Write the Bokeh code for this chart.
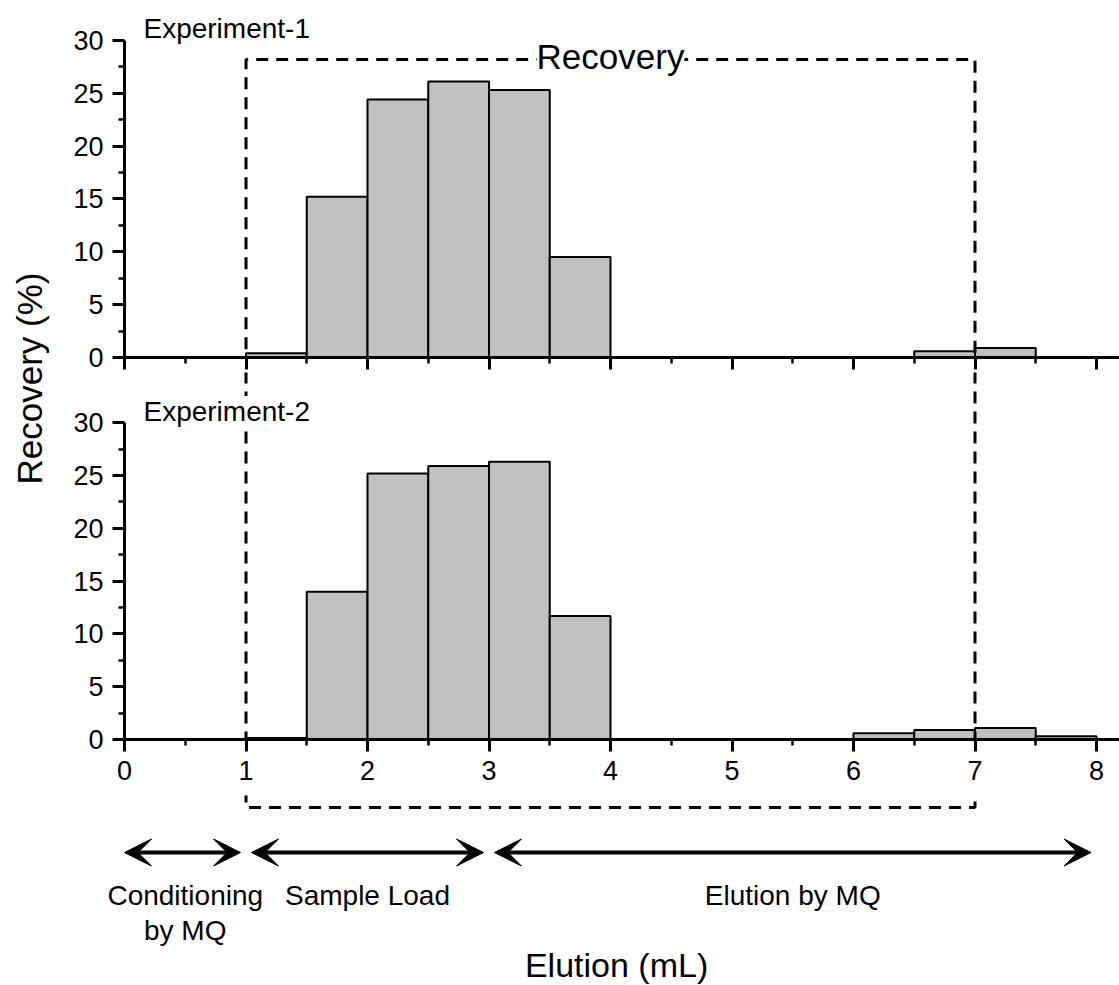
import numpy as np
from bokeh.plotting import figure
from bokeh.layouts import column, row
from bokeh.models import FixedTicker, Range1d, Label, Arrow, VeeHead, ColumnDataSource
from bokeh.core.properties import value
from bokeh.embed import file_html
from bokeh.resources import INLINE

# ---- data -------------------------------------------------------------
# fraction bins, 0.5 mL wide (left edges, mL)
bin_left = [0.0, 0.5, 1.0, 1.5, 2.0, 2.5, 3.0, 3.5, 4.0, 4.5, 5.0, 5.5, 6.0, 6.5, 7.0, 7.5]
bin_width = 0.5
# recovery per fraction (%)
recovery_exp1 = [0, 0, 0.4, 15.2, 24.4, 26.1, 25.3, 9.5, 0, 0, 0, 0, 0, 0.6, 0.9, 0]
recovery_exp2 = [0, 0, 0.15, 14.0, 25.2, 25.9, 26.3, 11.7, 0, 0, 0, 0, 0.6, 0.9, 1.1, 0.3]
panel_titles = ["Experiment-1", "Experiment-2"]

y_ticks = [0, 5, 10, 15, 20, 25, 30]
x_ticks = [0, 1, 2, 3, 4, 5, 6, 7, 8]

# fractions counted as recovery (mL)
recovery_window = [1, 7]

# protocol phases (mL)
phase_labels = ["Conditioning\nby MQ", "Sample Load", "Elution by MQ"]
phase_start = [0, 1, 3]
phase_end = [1, 3, 8]

# ---- layout constants -------------------------------------------------
FONT_NAME = "Liberation Sans"
FONT = value(FONT_NAME)
PX_PER_ML = 121.5
FRAME_W = 995
X_END = FRAME_W / PX_PER_ML
LEFT_W = 60
COL_W = 1059
BORDER_L = 64
PAGE_W = LEFT_W + COL_W

DASH = "12 8"


def minor(ticks):
    return [(a + b) / 2 for a, b in zip(ticks[:-1], ticks[1:])]


def style_axes(p, show_x_labels):
    p.xgrid.visible = False
    p.ygrid.visible = False
    p.outline_line_color = None
    for ax in (p.xaxis[0], p.yaxis[0]):
        ax.axis_line_width = 3
        ax.axis_line_color = "black"
        ax.major_tick_out = 12
        ax.major_tick_in = 0
        ax.minor_tick_out = 6
        ax.minor_tick_in = 0
        ax.major_tick_line_width = 3
        ax.minor_tick_line_width = 2.5
        ax.major_tick_line_color = "black"
        ax.minor_tick_line_color = "black"
        ax.major_label_text_font = FONT_NAME
        ax.major_label_text_font_size = "27px"
        ax.major_label_text_color = "black"
    p.yaxis.ticker = FixedTicker(ticks=y_ticks, minor_ticks=minor(y_ticks))
    p.yaxis.bounds = (y_ticks[0], y_ticks[-1])
    p.yaxis.major_label_standoff = 9
    p.xaxis.ticker = FixedTicker(ticks=x_ticks, minor_ticks=minor(x_ticks))
    if show_x_labels:
        p.xaxis.major_label_standoff = 9
    else:
        # the upper panel shares the lower panel's numbers: ticks only
        p.xaxis.major_label_text_font_size = "1px"
        p.xaxis.major_label_text_color = None
        p.xaxis.major_label_standoff = 0


def panel(values, height, frame_h, border_b, show_x_labels, px_per_unit):
    p = figure(width=COL_W, height=height,
               x_range=Range1d(0, X_END), y_range=Range1d(0, frame_h / px_per_unit),
               output_backend="svg", toolbar_location=None,
               min_border_left=BORDER_L, min_border_right=0,
               min_border_top=0, min_border_bottom=border_b,
               background_fill_color="white", border_fill_color="white")
    src = ColumnDataSource(dict(
        left=bin_left,
        right=[b + bin_width for b in bin_left],
        top=values,
    ))
    p.quad(left="left", right="right", bottom=0, top="top", source=src,
           fill_color="#c0c0c0", line_color="black", line_width=2)
    style_axes(p, show_x_labels)
    return p


# ---- top panel ----------------------------------------------------------
p1 = panel(recovery_exp1, 372, 357, 15, False, 10.57)
win_top = 28.2
p1.line(x=[recovery_window[0], recovery_window[0], recovery_window[1], recovery_window[1]],
        y=[-3, win_top, win_top, -3], line_color="black", line_width=3, line_dash=DASH)
p1.add_layout(Label(x=4.0, y=28.5, text="Recovery", text_font=FONT_NAME, text_font_size="35px",
                    text_align="center", text_baseline="middle", text_color="black",
                    background_fill_color="white"))
p1.add_layout(Label(x=0.156, y=31.1, text=panel_titles[0], text_font=FONT_NAME,
                    text_font_size="28px", text_align="left", text_baseline="middle",
                    text_color="black"))

# ---- bottom panel -------------------------------------------------------
p2 = panel(recovery_exp2, 423, 367, 56, True, 10.56)
p2.segment(x0=recovery_window, y0=[50, 50], x1=recovery_window, y1=[-3, -3],
           line_color="black", line_width=3, line_dash=DASH)
p2.add_layout(Label(x=0.156, y=31.05, text=panel_titles[1], text_font=FONT_NAME,
                    text_font_size="28px", text_align="left", text_baseline="middle",
                    text_color="black", background_fill_color="white"))

# ---- shared y-axis title ----------------------------------------------
p0 = figure(width=LEFT_W, height=372 + 423, x_range=Range1d(0, LEFT_W), y_range=Range1d(0, 372 + 423),
            output_backend="svg", toolbar_location=None,
            min_border_left=0, min_border_right=0, min_border_top=0, min_border_bottom=0,
            x_axis_type=None, y_axis_type=None)
p0.xgrid.visible = False
p0.ygrid.visible = False
p0.outline_line_color = None
p0.text(x=[29], y=[372 + 423 - 378], text=["Recovery (%)"], angle=np.pi / 2, text_font=FONT,
        text_font_size="35px", text_align="center", text_baseline="middle", text_color="black")

# ---- protocol strip below the axis (full page width) -------------------
FOOT_H = 190
x_left_page = -(LEFT_W + BORDER_L) / PX_PER_ML
p3 = figure(width=PAGE_W, height=FOOT_H, x_range=Range1d(x_left_page, X_END),
            y_range=Range1d(0, FOOT_H),
            output_backend="svg", toolbar_location=None,
            min_border_left=0, min_border_right=0, min_border_top=0, min_border_bottom=0,
            x_axis_type=None, y_axis_type=None)
p3.xgrid.visible = False
p3.ygrid.visible = False
p3.outline_line_color = None

win_bottom = 178
p3.line(x=[recovery_window[0], recovery_window[0], recovery_window[1], recovery_window[1]],
        y=[FOOT_H + 5, win_bottom, win_bottom, FOOT_H + 5],
        line_color="black", line_width=3, line_dash=DASH)

inset = 0.045
arrow_src = ColumnDataSource(dict(
    x0=[s + (inset if s > x_ticks[0] else 0) for s in phase_start],
    x1=[e - inset for e in phase_end],
    y=[133] * len(phase_start),
))
p3.add_layout(Arrow(start=VeeHead(size=27, fill_color="black", line_color="black", line_width=1),
                    end=VeeHead(size=27, fill_color="black", line_color="black", line_width=1),
                    x_start="x0", y_start="y", x_end="x1", y_end="y",
                    line_width=4, line_color="black", source=arrow_src))

# phase names centred under each arrow
for s, e, lab in zip(phase_start, phase_end, phase_labels):
    for i, line in enumerate(lab.split("\n")):
        p3.add_layout(Label(x=(s + e) / 2, y=90 - 35 * i, text=line, text_font=FONT_NAME,
                            text_font_size="28px", text_align="center",
                            text_baseline="middle", text_color="black"))
p3.add_layout(Label(x=4.05, y=21, text="Elution (mL)", text_font=FONT_NAME,
                    text_font_size="34px", text_align="center",
                    text_baseline="middle", text_color="black"))

layout = column(row(p0, column(p1, p2, spacing=0), spacing=0), p3, spacing=0)

with open("out.html", "w") as f:
    f.write(file_html(layout, INLINE))
